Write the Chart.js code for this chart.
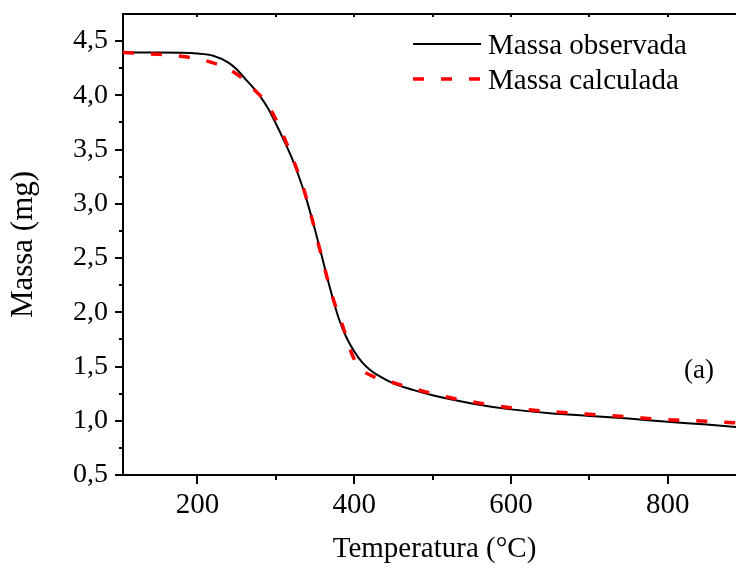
<!DOCTYPE html>
<html>
<head>
<meta charset="utf-8">
<script src="https://cdn.jsdelivr.net/npm/chart.js@4.4.1/dist/chart.umd.min.js"></script>
<style>
  html, body { margin: 0; padding: 0; background: #fff; overflow: hidden; width: 736px; height: 569px; }
  #wrap { position: absolute; left: 0; top: 0; width: 770px; height: 569px; }
</style>
</head>
<body>
<div id="wrap"><canvas id="c" width="770" height="569"></canvas></div>
<script>
// ---- Data ----
const temperatureObs = [105, 150, 200, 220, 240, 250, 260, 270, 280, 290, 300, 310, 320, 330, 340, 350, 360, 370, 380, 390, 400, 410, 420, 430, 450, 475, 500, 550, 600, 650, 700, 750, 800, 850, 900];
const massObserved   = [4.395, 4.395, 4.385, 4.365, 4.30, 4.24, 4.16, 4.08, 3.99, 3.88, 3.74, 3.59, 3.43, 3.24, 3.02, 2.76, 2.48, 2.20, 1.95, 1.77, 1.64, 1.54, 1.47, 1.42, 1.345, 1.285, 1.235, 1.16, 1.105, 1.07, 1.045, 1.02, 0.99, 0.965, 0.935];

const temperatureCalc = [105, 150, 185, 220, 240, 255, 270, 288, 300, 322, 335, 347, 360, 372, 386, 398, 410, 424, 450, 500, 550, 600, 650, 700, 750, 800, 850, 900];
const massCalculated  = [4.395, 4.378, 4.355, 4.30, 4.24, 4.17, 4.07, 3.93, 3.78, 3.41, 3.15, 2.84, 2.47, 2.15, 1.86, 1.60, 1.47, 1.41, 1.35, 1.25, 1.175, 1.12, 1.085, 1.06, 1.035, 1.01, 0.995, 0.975];

const seriesLabels = ['Massa observada', 'Massa calculada'];
const xMajorTicks = [200, 400, 600, 800];
const xMinorTicks = [300, 500, 700, 900];
const yMajorTicks = [0.5, 1.0, 1.5, 2.0, 2.5, 3.0, 3.5, 4.0, 4.5];
const yMinorTicks = [0.75, 1.25, 1.75, 2.25, 2.75, 3.25, 3.75, 4.25];
const xTitle = 'Temperatura (°C)';
const yTitle = 'Massa (mg)';
const panelLabel = '(a)';

const FONT = "'Liberation Serif', 'Times New Roman', serif";

const toPoints = (xs, ys) => xs.map((x, i) => ({ x: x, y: ys[i] }));

const framePlugin = {
  id: 'frame',
  afterDraw(chart) {
    const ctx = chart.ctx;
    const a = chart.chartArea;
    const xs = chart.scales.x, ys = chart.scales.y;
    ctx.save();
    ctx.strokeStyle = '#000';
    ctx.lineWidth = 2;
    ctx.lineCap = 'butt';
    // top border
    ctx.beginPath();
    ctx.moveTo(a.left - 1, a.top);
    ctx.lineTo(a.right + 1, a.top);
    ctx.stroke();
    // x ticks (outward at bottom, small inward at top)
    const xt = (v, len) => {
      const p = Math.round(xs.getPixelForValue(v));
      ctx.beginPath(); ctx.moveTo(p, a.bottom); ctx.lineTo(p, a.bottom + len); ctx.stroke();
      ctx.beginPath(); ctx.moveTo(p, a.top); ctx.lineTo(p, a.top + 3); ctx.stroke();
    };
    xMajorTicks.forEach(v => xt(v, 9));
    xMinorTicks.forEach(v => xt(v, 5));
    // y ticks outward on left
    const yt = (v, len) => {
      const p = Math.round(ys.getPixelForValue(v));
      ctx.beginPath(); ctx.moveTo(a.left, p); ctx.lineTo(a.left - len, p); ctx.stroke();
    };
    yMajorTicks.forEach(v => yt(v, 8));
    yMinorTicks.forEach(v => yt(v, 4));

    // legend
    const ds = chart.data.datasets;
    const rows = [44, 79];
    ctx.font = '29px ' + FONT;
    ctx.textAlign = 'left';
    ctx.textBaseline = 'alphabetic';
    ds.forEach((d, i) => {
      ctx.save();
      ctx.strokeStyle = d.borderColor;
      ctx.lineWidth = d.borderWidth;
      ctx.setLineDash(d.borderDash || []);
      ctx.beginPath();
      ctx.moveTo(413, rows[i]);
      ctx.lineTo(481, rows[i]);
      ctx.stroke();
      ctx.restore();
      ctx.fillStyle = '#000';
      ctx.fillText(d.label, 488, rows[i] + 9.5);
    });

    // panel label
    ctx.font = '27px ' + FONT;
    ctx.textAlign = 'center';
    ctx.fillText(panelLabel, xs.getPixelForValue(840), ys.getPixelForValue(1.39));
    ctx.restore();
  }
};

new Chart(document.getElementById('c'), {
  type: 'line',
  data: {
    datasets: [
      {
        label: seriesLabels[0],
        data: toPoints(temperatureObs, massObserved),
        borderColor: '#000000',
        borderWidth: 2,
        pointRadius: 0,
        fill: false,
        cubicInterpolationMode: 'monotone',
        order: 1
      },
      {
        label: seriesLabels[1],
        data: toPoints(temperatureCalc, massCalculated),
        borderColor: '#ff0000',
        borderWidth: 3.5,
        borderDash: [11, 17],
        pointRadius: 0,
        fill: false,
        cubicInterpolationMode: 'monotone',
        order: 0
      }
    ]
  },
  options: {
    responsive: false,
    animation: false,
    layout: { padding: { left: 0, right: 24, top: 14, bottom: 0 } },
    plugins: { legend: { display: false }, tooltip: { enabled: false } },
    scales: {
      x: {
        type: 'linear',
        min: 105,
        max: 900,
        afterBuildTicks: (s) => { s.ticks = xMajorTicks.map(v => ({ value: v })); },
        afterFit: (s) => { s.height = 94; s.paddingLeft = 0; s.paddingRight = 0; },
        grid: { display: false, drawTicks: true, tickLength: 9 },
        border: { display: true, color: '#000', width: 2 },
        ticks: {
          color: '#000',
          font: { family: FONT, size: 29 },
          padding: 4,
          maxRotation: 0,
          callback: (v) => String(v)
        },
        title: {
          display: true,
          text: xTitle,
          color: '#000',
          font: { family: FONT, size: 29 },
          padding: { top: 0, bottom: 2 }
        }
      },
      y: {
        type: 'linear',
        min: 0.5,
        max: 4.75,
        afterBuildTicks: (s) => { s.ticks = yMajorTicks.map(v => ({ value: v })); },
        afterFit: (s) => { s.width = 123; s.paddingTop = 0; s.paddingBottom = 0; },
        grid: { display: false, drawTicks: true, tickLength: 8 },
        border: { display: true, color: '#000', width: 2 },
        ticks: {
          color: '#000',
          font: { family: FONT, size: 28 },
          padding: 7,
          callback: (v) => v.toFixed(1).replace('.', ',')
        },
        title: {
          display: true,
          text: yTitle,
          color: '#000',
          font: { family: FONT, size: 31 },
          padding: { top: 5, bottom: 0 }
        }
      }
    }
  },
  plugins: [framePlugin]
});
</script>
</body>
</html>
